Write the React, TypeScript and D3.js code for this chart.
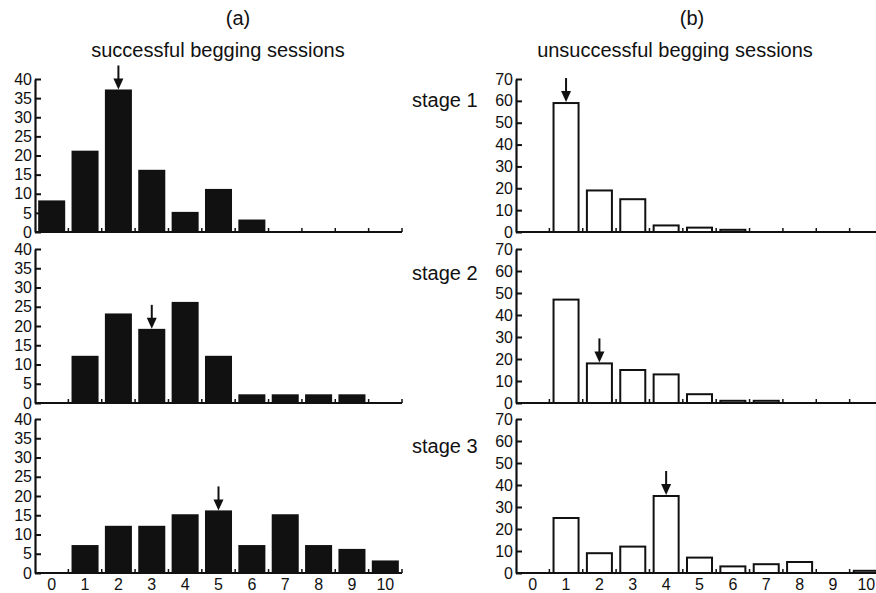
import { useRef, useEffect } from 'react';
import * as d3 from 'd3';

const bins = ['0', '1', '2', '3', '4', '5', '6', '7', '8', '9', '10'];

const successStage1 = [8, 21, 37, 16, 5, 11, 3, 0, 0, 0, 0];
const successStage2 = [0, 12, 23, 19, 26, 12, 2, 2, 2, 2, 0];
const successStage3 = [0, 7, 12, 12, 15, 16, 7, 15, 7, 6, 3];

const failStage1 = [0, 59, 19, 15, 3, 2, 1, 0, 0, 0, 0];
const failStage2 = [0, 47, 18, 15, 13, 4, 1, 1, 0, 0, 0];
const failStage3 = [0, 25, 9, 12, 35, 7, 3, 4, 5, 0, 1];

// bin marked with an arrow in each panel
const successArrows = ['2', '3', '5'];
const failArrows = ['1', '2', '4'];

const successTicks = [0, 5, 10, 15, 20, 25, 30, 35, 40];
const failTicks = [0, 10, 20, 30, 40, 50, 60, 70];

const stageLabels = ['stage 1', 'stage 2', 'stage 3'];

const FONT = '"Liberation Sans", Arial, Helvetica, sans-serif';

const App = () => {
  const svgRef = useRef<SVGSVGElement>(null);

  useEffect(() => {
    const svg = d3.select(svgRef.current);
    svg.selectAll('*').remove();

    // vertical placement of the three rows: [zero line, top of axis]
    const rows = [[232, 79], [403, 249], [573, 419]];

    const columns = [
      { x0: 35, x1: 402, max: 40, ticks: successTicks, series: [successStage1, successStage2, successStage3], arrows: successArrows, fill: '#111' },
      { x0: 516, x1: 883, max: 70, ticks: failTicks, series: [failStage1, failStage2, failStage3], arrows: failArrows, fill: '#fff' },
    ];

    columns.forEach((col) => {
      const x = d3.scaleBand()
        .domain(bins)
        .range([col.x0, col.x1])
        .paddingInner(0.25)
        .paddingOuter(0.125);

      col.series.forEach((values, r) => {
        const [bottom, top] = rows[r];
        const y = d3.scaleLinear().domain([0, col.max]).range([bottom, top]);
        const g = svg.append('g');

        // bars
        g.selectAll('rect')
          .data(values)
          .join('rect')
          .attr('x', (d, i) => x(bins[i])!)
          .attr('y', d => y(d))
          .attr('width', x.bandwidth())
          .attr('height', d => y(0) - y(d))
          .attr('fill', col.fill)
          .attr('stroke', '#111')
          .attr('stroke-width', 2);

        // x axis line + small ticks at bin edges
        g.append('line')
          .attr('x1', col.x0).attr('x2', col.x1)
          .attr('y1', y(0)).attr('y2', y(0))
          .attr('stroke', '#111').attr('stroke-width', 2.2);

        g.selectAll('line.xt')
          .data(d3.range(1, bins.length + 1))
          .join('line')
          .attr('class', 'xt')
          .attr('x1', i => col.x0 + i * x.step())
          .attr('x2', i => col.x0 + i * x.step())
          .attr('y1', y(0))
          .attr('y2', y(0) - 4)
          .attr('stroke', '#111')
          .attr('stroke-width', 1.5);

        // y axis
        const yAxis = g.append('g')
          .attr('transform', `translate(${col.x0},0)`)
          .call(d3.axisLeft(y).tickValues(col.ticks).tickSizeInner(-6).tickSizeOuter(0).tickPadding(10));
        yAxis.select('.domain').attr('stroke', '#111').attr('stroke-width', 2.2);
        yAxis.selectAll('.tick line').attr('stroke', '#111').attr('stroke-width', 2);
        yAxis.selectAll('.tick text')
          .attr('x', -3)
          .attr('font-family', FONT)
          .attr('font-size', 16)
          .attr('fill', '#111');

        // arrow pointing to the median bin
        const b = col.arrows[r];
        const v = values[bins.indexOf(b)];
        const cx = x(b)! + x.bandwidth() / 2;
        const tip = y(v) - 1;
        g.append('line')
          .attr('x1', cx).attr('x2', cx)
          .attr('y1', tip - 24).attr('y2', tip - 6)
          .attr('stroke', '#111').attr('stroke-width', 2);
        g.append('path')
          .attr('d', `M${cx - 5},${tip - 11}L${cx + 5},${tip - 11}L${cx},${tip}Z`)
          .attr('fill', '#111');

        // category labels under the last row
        if (r === 2) {
          g.selectAll('text.xl')
            .data(bins)
            .join('text')
            .attr('class', 'xl')
            .attr('x', d => x(d)! + x.bandwidth() / 2)
            .attr('y', 590)
            .attr('text-anchor', 'middle')
            .attr('font-family', FONT)
            .attr('font-size', 16)
            .attr('fill', '#111')
            .text(d => d);
        }
      });
    });

    // titles
    const text = (t: string, xPos: number, yPos: number, size: number, anchor = 'middle') =>
      svg.append('text')
        .attr('x', xPos).attr('y', yPos)
        .attr('text-anchor', anchor)
        .attr('font-family', FONT)
        .attr('font-size', size)
        .attr('fill', '#111')
        .text(t);

    text('(a)', 238, 25, 20);
    text('(b)', 692, 25, 20);
    text('successful begging sessions', 218, 57, 20);
    text('unsuccessful begging sessions', 675, 57, 20);

    const stageY = [107, 280, 453];
    stageLabels.forEach((s, i) => text(s, 412, stageY[i], 20, 'start'));
  }, []);

  return (
    <svg
      ref={svgRef}
      width={876}
      height={593}
      style={{ position: 'absolute', left: 0, top: 0, background: '#fff' }}
    />
  );
};

export default App;
